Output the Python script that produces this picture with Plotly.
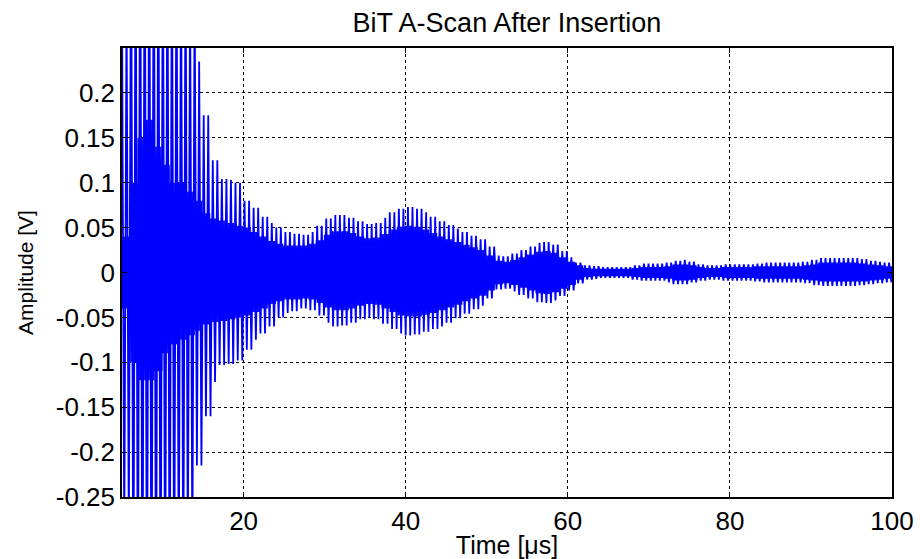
import numpy as np
import plotly.graph_objects as go

# Time bins (1 us wide) over which the echo envelope is tabulated
time_bins_us = list(range(5, 101))

# Outer envelope of the received A-scan (peak amplitude per bin, V)
env_upper = [
    0.300, 0.420, 0.450, 0.450, 0.440, 0.420, 0.400, 0.370, 0.320, 0.235,   # 5-14
    0.175, 0.125, 0.104, 0.103, 0.100, 0.080, 0.072, 0.062, 0.055, 0.050,   # 15-24
    0.045, 0.043, 0.042, 0.045, 0.052, 0.060, 0.064, 0.064, 0.061, 0.057,   # 25-34
    0.054, 0.055, 0.061, 0.067, 0.071, 0.073, 0.071, 0.067, 0.062, 0.057,   # 35-44
    0.053, 0.049, 0.045, 0.041, 0.037, 0.029, 0.019, 0.018, 0.021, 0.025,   # 45-54
    0.029, 0.033, 0.034, 0.031, 0.024, 0.017, 0.011, 0.008, 0.007, 0.006,   # 55-64
    0.006, 0.006, 0.006, 0.008, 0.010, 0.010, 0.010, 0.011, 0.013, 0.014,   # 65-74
    0.012, 0.009, 0.008, 0.008, 0.009, 0.009, 0.009, 0.009, 0.010, 0.011,   # 75-84
    0.011, 0.011, 0.011, 0.011, 0.012, 0.014, 0.016, 0.016, 0.016, 0.016,   # 85-94
    0.016, 0.015, 0.013, 0.012, 0.011, 0.011,                               # 95-100
]
env_lower = [
    -0.300, -0.420, -0.450, -0.450, -0.440, -0.420, -0.400, -0.370, -0.320, -0.215,
    -0.160, -0.122, -0.103, -0.102, -0.098, -0.086, -0.075, -0.068, -0.060, -0.050,
    -0.045, -0.043, -0.040, -0.042, -0.048, -0.056, -0.060, -0.059, -0.056, -0.052,
    -0.050, -0.052, -0.057, -0.063, -0.068, -0.070, -0.069, -0.066, -0.063, -0.060,
    -0.056, -0.051, -0.046, -0.041, -0.037, -0.029, -0.019, -0.018, -0.021, -0.025,
    -0.029, -0.033, -0.034, -0.031, -0.026, -0.020, -0.012, -0.008, -0.007, -0.006,
    -0.006, -0.006, -0.006, -0.008, -0.009, -0.009, -0.009, -0.011, -0.013, -0.013,
    -0.011, -0.009, -0.008, -0.008, -0.009, -0.009, -0.009, -0.009, -0.010, -0.011,
    -0.011, -0.011, -0.011, -0.011, -0.012, -0.014, -0.015, -0.015, -0.015, -0.015,
    -0.015, -0.014, -0.013, -0.012, -0.011, -0.011,
]

# Dense inner band of the signal (lower-level ringing, V)
core_upper = [
    0.040, 0.100, 0.150, 0.170, 0.140, 0.120, 0.100, 0.100, 0.090, 0.080,
    0.066, 0.060, 0.058, 0.055, 0.052, 0.050, 0.045, 0.040, 0.035, 0.032,
    0.030, 0.030, 0.030, 0.032, 0.036, 0.042, 0.046, 0.046, 0.044, 0.040,
    0.038, 0.039, 0.043, 0.048, 0.051, 0.052, 0.051, 0.048, 0.044, 0.040,
    0.037, 0.034, 0.031, 0.028, 0.025, 0.019, 0.013, 0.012, 0.014, 0.017,
    0.020, 0.023, 0.024, 0.022, 0.017, 0.012, 0.008, 0.005, 0.004, 0.004,
    0.004, 0.004, 0.004, 0.005, 0.006, 0.006, 0.006, 0.007, 0.009, 0.009,
    0.008, 0.006, 0.005, 0.005, 0.006, 0.006, 0.006, 0.006, 0.007, 0.007,
    0.007, 0.007, 0.007, 0.007, 0.008, 0.009, 0.011, 0.011, 0.011, 0.011,
    0.011, 0.010, 0.009, 0.008, 0.007, 0.007,
]
core_lower = [
    -0.040, -0.100, -0.120, -0.120, -0.110, -0.090, -0.080, -0.075, -0.070, -0.065,
    -0.058, -0.055, -0.054, -0.052, -0.050, -0.048, -0.044, -0.040, -0.035, -0.032,
    -0.030, -0.030, -0.029, -0.030, -0.034, -0.039, -0.042, -0.042, -0.040, -0.037,
    -0.035, -0.036, -0.040, -0.044, -0.048, -0.049, -0.049, -0.047, -0.045, -0.042,
    -0.039, -0.036, -0.032, -0.029, -0.026, -0.020, -0.013, -0.012, -0.014, -0.017,
    -0.020, -0.023, -0.024, -0.022, -0.018, -0.014, -0.008, -0.005, -0.004, -0.004,
    -0.004, -0.004, -0.004, -0.005, -0.006, -0.006, -0.006, -0.007, -0.009, -0.009,
    -0.008, -0.006, -0.005, -0.005, -0.006, -0.006, -0.006, -0.006, -0.007, -0.007,
    -0.007, -0.007, -0.007, -0.007, -0.008, -0.009, -0.010, -0.010, -0.010, -0.010,
    -0.010, -0.010, -0.009, -0.008, -0.007, -0.007,
]

# Carrier half-periods (us) of the main echo and of the dense ringing
carrier_half_period_us = 0.28
ringing_half_period_us = 0.1

x_tick_vals = [20, 40, 60, 80, 100]
x_tick_text = ["20", "40", "60", "80", "100"]
y_tick_vals = [0.2, 0.15, 0.1, 0.05, 0.0, -0.05, -0.1, -0.15, -0.2, -0.25]
y_tick_text = ["0.2", "0.15", "0.1", "0.05", "0", "-0.05", "-0.1", "-0.15", "-0.2", "-0.25"]


def alternating_peaks(half_period, upper, lower):
    """Peaks alternating between the upper and lower envelope of each time bin."""
    t0 = time_bins_us[0]
    t = np.arange(t0, time_bins_us[-1] + 1e-9, half_period)
    idx = np.minimum(np.floor(t - t0 + 1e-9).astype(int), len(time_bins_us) - 1)
    up = np.asarray(upper)[idx]
    lo = np.asarray(lower)[idx]
    k = np.arange(len(t))
    return t, np.where(k % 2 == 0, up, lo)


t_core, v_core = alternating_peaks(ringing_half_period_us, core_upper, core_lower)
t_main, v_main = alternating_peaks(carrier_half_period_us, env_upper, env_lower)

BLUE = "#0000FF"
FONT = "Liberation Sans, Arial, Helvetica, sans-serif"

fig = go.Figure()
fig.add_trace(go.Scatter(x=t_core, y=v_core, mode="lines",
                         line=dict(color=BLUE, width=1.5), showlegend=False,
                         hoverinfo="skip"))
fig.add_trace(go.Scatter(x=t_main, y=v_main, mode="lines",
                         line=dict(color=BLUE, width=1.8), showlegend=False))

axis_common = dict(
    showline=True, linecolor="black", linewidth=1.5, mirror="ticks",
    ticks="inside", ticklen=5, tickwidth=1, tickcolor="black",
    showgrid=True, gridcolor="black", gridwidth=1, griddash="dot",
    zeroline=False, automargin=False,
    tickfont=dict(family=FONT, size=26, color="black"),
)

fig.update_layout(
    width=920, height=559, autosize=False,
    margin=dict(l=122, r=28, t=48, b=62, autoexpand=False),
    paper_bgcolor="white", plot_bgcolor="white",
    title=dict(text="BiT A-Scan After Insertion", x=0.551, xanchor="center",
               y=0.96, yanchor="middle",
               font=dict(family=FONT, size=27, color="black")),
    xaxis=dict(range=[5, 100], tickvals=x_tick_vals, ticktext=x_tick_text,
               title=dict(text="Time [μs]", standoff=0,
                          font=dict(family=FONT, size=25, color="black")),
               **axis_common),
    yaxis=dict(range=[-0.25, 0.25], tickvals=y_tick_vals, ticktext=y_tick_text,
               title=dict(text="Amplitude [V]", standoff=16,
                          font=dict(family=FONT, size=21, color="black")),
               **axis_common),
)

fig.write_html("out.html")
